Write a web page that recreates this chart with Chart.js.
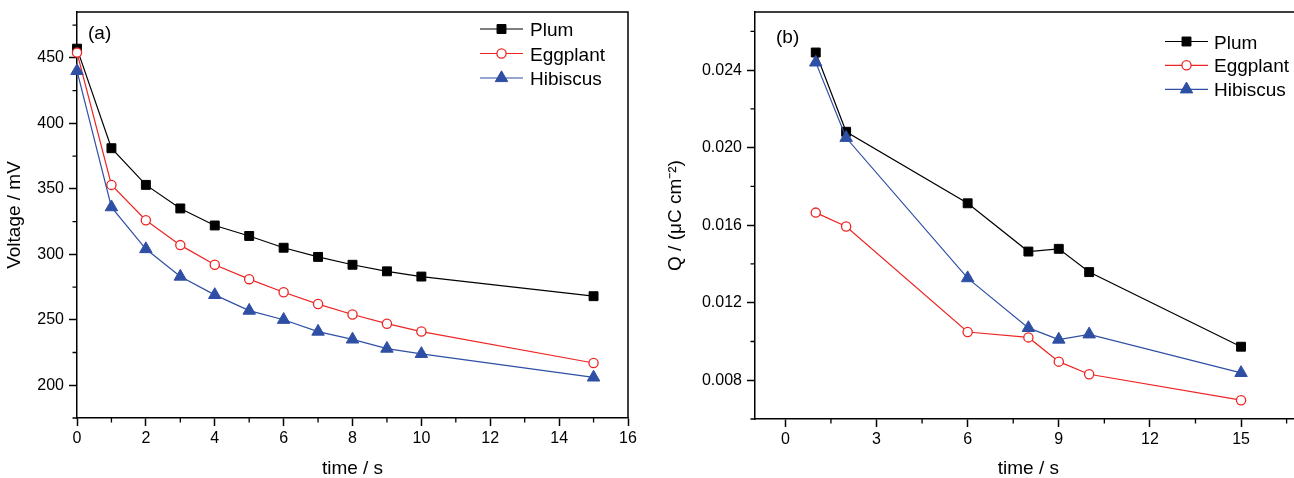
<!DOCTYPE html>
<html><head><meta charset="utf-8">
<script src="https://cdn.jsdelivr.net/npm/chart.js@4.4.1/dist/chart.umd.min.js"></script>
<style>
html,body{margin:0;padding:0;background:#fff;overflow:hidden;width:1294px;height:478px;position:relative;}
#wrapA{position:absolute;left:0;top:0;width:650px;height:478px;}
#wrapB{position:absolute;left:650px;top:0;width:660px;height:478px;}
canvas{display:block;}
</style></head><body>
<div id="wrapA"><canvas id="ca" width="650" height="478"></canvas></div>
<div id="wrapB"><canvas id="cb" width="660" height="478"></canvas></div>
<script>
// ---------- data ----------
const seriesNames = ['Plum', 'Eggplant', 'Hibiscus'];

// Panel (a): voltage vs time
const timeA = [0, 1, 2, 3, 4, 5, 6, 7, 8, 9, 10, 15];
const voltPlum     = [457, 381, 353, 335, 322, 314, 305, 298, 292, 287, 283, 268];
const voltEggplant = [454, 353, 326, 307, 292, 281, 271, 262, 254, 247, 241, 217];
const voltHibiscus = [440, 336, 304, 283, 269, 257, 250, 241, 235, 228, 224, 206];
const ticksTimeA = [0, 2, 4, 6, 8, 10, 12, 14, 16];
const ticksVolt  = [200, 250, 300, 350, 400, 450];

// Panel (b): charge vs time
const timeB = [1, 2, 6, 8, 9, 10, 15];
const qPlum     = [0.02491, 0.02082, 0.01713, 0.01464, 0.01478, 0.01358, 0.00973];
const qEggplant = [0.01665, 0.01593, 0.01049, 0.01021, 0.00896, 0.00831, 0.00697];
const qHibiscus = [0.02440, 0.02051, 0.01327, 0.01070, 0.01010, 0.01037, 0.00838];
const ticksTimeB = [0, 3, 6, 9, 12, 15];
const ticksQ     = [0.008, 0.012, 0.016, 0.020, 0.024];

// ---------- styles ----------
const FONT = '"Liberation Sans", Arial, Helvetica, sans-serif';
const styles = [
  {color: '#000000', pointStyle: 'rect',     radius: 6.3, bg: '#000000', bw: 1},
  {color: '#ee2424', pointStyle: 'circle',   radius: 4.6, bg: '#ffffff', bw: 1.3},
  {color: '#2f4fa5', pointStyle: 'triangle', radius: 7.2, bg: '#2f4fa5', bw: 1}
];

function makeDatasets(xs, ysList) {
  return ysList.map((ys, i) => ({
    label: seriesNames[i],
    data: xs.map((x, j) => ({x: x, y: ys[j]})),
    borderColor: styles[i].color,
    backgroundColor: styles[i].bg,
    borderWidth: 1.2,
    pointStyle: styles[i].pointStyle,
    pointRadius: styles[i].radius,
    pointBorderWidth: styles[i].bw,
    pointBorderColor: styles[i].color,
    pointBackgroundColor: styles[i].bg,
    tension: 0,
    clip: false,
    order: 2 - i
  }));
}

function drawMarker(ctx, style, r, x, y) {
  ctx.save();
  ctx.fillStyle = style.bg;
  ctx.strokeStyle = style.color;
  ctx.lineWidth = style.bw;
  ctx.beginPath();
  if (style.pointStyle === 'rect') {
    const s = Math.SQRT1_2 * r;
    ctx.rect(x - s, y - s, 2 * s, 2 * s);
  } else if (style.pointStyle === 'circle') {
    ctx.arc(x, y, r, 0, Math.PI * 2);
  } else {
    const T = Math.PI * 2 / 3;
    let a = 0;
    ctx.moveTo(x + Math.sin(a) * r, y - Math.cos(a) * r); a += T;
    ctx.lineTo(x + Math.sin(a) * r, y - Math.cos(a) * r); a += T;
    ctx.lineTo(x + Math.sin(a) * r, y - Math.cos(a) * r);
    ctx.closePath();
  }
  ctx.fill();
  ctx.stroke();
  ctx.restore();
}

const framePlugin = {
  id: 'frame',
  afterDraw(chart, args, o) {
    const ctx = chart.ctx, a = chart.chartArea;
    const sx = chart.scales.x, sy = chart.scales.y;
    ctx.save();
    ctx.strokeStyle = '#000';
    ctx.lineWidth = 1.5;
    ctx.beginPath();
    ctx.moveTo(a.left, a.top);
    ctx.lineTo(a.right, a.top);
    ctx.lineTo(a.right, a.bottom);
    ctx.stroke();
    // minor ticks
    ctx.lineWidth = 1.3;
    ctx.beginPath();
    for (let k = Math.ceil(sx.min / o.minorX); k * o.minorX <= sx.max + 1e-9; k++) {
      const v = k * o.minorX;
      if (o.majorX.some(m => Math.abs(m - v) < 1e-9)) continue;
      const px = sx.getPixelForValue(v);
      ctx.moveTo(px, a.bottom); ctx.lineTo(px, a.bottom + 4.5);
    }
    for (let k = Math.ceil(sy.min / o.minorY - 1e-9); k * o.minorY <= sy.max + 1e-12; k++) {
      const v = k * o.minorY;
      if (o.majorY.some(m => Math.abs(m - v) < o.minorY * 1e-3)) continue;
      const py = sy.getPixelForValue(v);
      ctx.moveTo(a.left, py); ctx.lineTo(a.left - 4.5, py);
    }
    ctx.stroke();
    // panel label
    ctx.fillStyle = '#000';
    ctx.font = '19px ' + FONT;
    ctx.textBaseline = 'alphabetic';
    ctx.textAlign = 'left';
    ctx.fillText(o.label, o.labelX, o.labelY);
    // legend
    const L = o.legend;
    chart.data.datasets.forEach((ds, i) => {
      const y = L.rows[i];
      ctx.strokeStyle = styles[i].color;
      ctx.lineWidth = 1.2;
      ctx.beginPath();
      ctx.moveTo(L.x0, y); ctx.lineTo(L.x1, y);
      ctx.stroke();
      drawMarker(ctx, styles[i], styles[i].radius, (L.x0 + L.x1) / 2, y);
      ctx.fillStyle = '#000';
      ctx.font = '19px ' + FONT;
      ctx.fillText(ds.label, L.textX, y + 7);
    });
    ctx.restore();
  }
};

function xScale(min, max, ticksArr, title, height) {
  return {
    type: 'linear', position: 'bottom', min: min, max: max,
    afterBuildTicks: s => { s.ticks = ticksArr.map(v => ({value: v})); },
    afterFit: s => { s.height = height; s.paddingLeft = 0; s.paddingRight = 0; s.paddingTop = 0; s.paddingBottom = 0; },
    ticks: {color: '#000', font: {family: FONT, size: 16}, padding: 3, autoSkip: false, maxRotation: 0,
            callback: v => String(v)},
    grid: {drawOnChartArea: false, drawTicks: true, tickLength: 8, tickWidth: 1.5, tickColor: '#000'},
    border: {display: true, color: '#000', width: 1.5},
    title: {display: true, text: title, color: '#000', font: {family: FONT, size: 19, lineHeight: 1}, padding: {top: 0, bottom: 0}}
  };
}
function yScale(min, max, ticksArr, fmt, title, titlePad, width) {
  return {
    type: 'linear', position: 'left', min: min, max: max,
    afterBuildTicks: s => { s.ticks = ticksArr.map(v => ({value: v})); },
    afterFit: s => { s.width = width; s.paddingLeft = 0; s.paddingRight = 0; s.paddingTop = 0; s.paddingBottom = 0; },
    ticks: {color: '#000', font: {family: FONT, size: 16}, padding: 5, autoSkip: false, callback: v => fmt(v)},
    grid: {drawOnChartArea: false, drawTicks: true, tickLength: 8, tickWidth: 1.5, tickColor: '#000'},
    border: {display: true, color: '#000', width: 1.5},
    title: {display: true, text: title, color: '#000', font: {family: FONT, size: 19, lineHeight: 1.2}, padding: {top: titlePad, bottom: 0}}
  };
}

const common = {
  responsive: false, animation: false, events: [],
  plugins: {legend: {display: false}, tooltip: {enabled: false}}
};

new Chart(document.getElementById('ca'), {
  type: 'line',
  data: {datasets: makeDatasets(timeA, [voltPlum, voltEggplant, voltHibiscus])},
  options: Object.assign({}, common, {
    layout: {padding: {left: 0, top: 12, right: 22, bottom: 0}},
    scales: {
      x: xScale(0, 16, ticksTimeA, 'time / s', 60),
      y: yScale(175, 485, ticksVolt, v => String(v), 'Voltage / mV', 3, 77)
    },
    plugins: Object.assign({}, common.plugins, {
      frame: {minorX: 1, majorX: ticksTimeA, minorY: 25, majorY: ticksVolt,
              label: '(a)', labelX: 88, labelY: 39,
              legend: {x0: 480, x1: 523, textX: 530, rows: [29, 53.5, 78]}}
    })
  }),
  plugins: [framePlugin]
});

new Chart(document.getElementById('cb'), {
  type: 'line',
  data: {datasets: makeDatasets(timeB, [qPlum, qEggplant, qHibiscus])},
  options: Object.assign({}, common, {
    layout: {padding: {left: 0, top: 12, right: 7, bottom: 0}},
    scales: {
      x: xScale(-1, 17, ticksTimeB, 'time / s', 59),
      y: yScale(0.006, 0.027, ticksQ, v => v.toFixed(3), 'Q / (\u03bcC cm\u207b\u00b2)', 14, 105)
    },
    plugins: Object.assign({}, common.plugins, {
      frame: {minorX: 1.5, majorX: ticksTimeB, minorY: 0.002, majorY: ticksQ,
              label: '(b)', labelX: 126, labelY: 43,
              legend: {x0: 515, x1: 558, textX: 564, rows: [41.5, 65.3, 89.3]}}
    })
  }),
  plugins: [framePlugin]
});
</script>
</body></html>
